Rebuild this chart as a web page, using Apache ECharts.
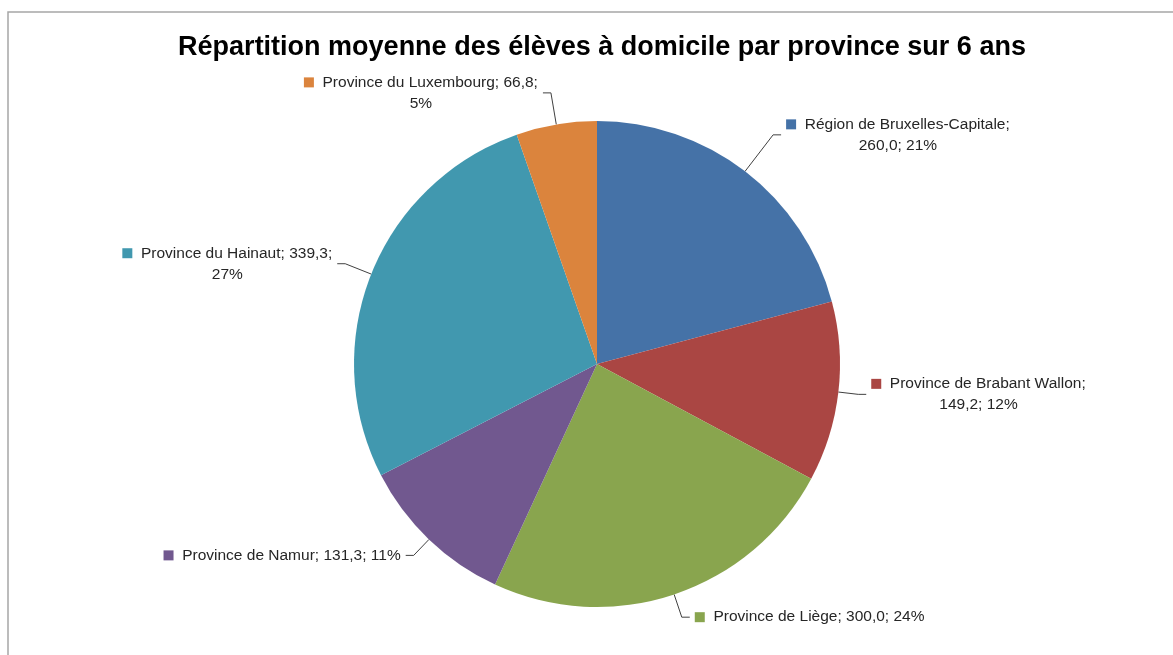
<!DOCTYPE html>
<html><head><meta charset="utf-8">
<script src="https://cdn.jsdelivr.net/npm/echarts@6/dist/echarts.min.js"></script>
<style>html,body{margin:0;padding:0;background:#fff}#c{width:1173px;height:655px}</style>
</head><body><div id="c"></div>
<script>
const titleText = 'Répartition moyenne des élèves à domicile par province sur 6 ans';
const categories = ['Région de Bruxelles-Capitale', 'Province de Brabant Wallon', 'Province de Liège', 'Province de Namur', 'Province du Hainaut', 'Province du Luxembourg'];
const values = [260.0, 149.2, 300.0, 131.3, 339.3, 66.8];
const colors = ['#4572A7', '#AA4643', '#89A54E', '#71588F', '#4198AF', '#DB843D'];
// how each label wraps in the reference (line break after name, after value, or none)
const labelBreaks = ['name', 'name', 'none', 'none', 'value', 'value'];

// styling only: leader line first-segment length per slice
const leaderLengths = [46, 20, 24, 22, 28, 32];

const total = values.reduce((a, b) => a + b, 0);
const fmtNum = v => v.toFixed(1).replace('.', ',');

const FS = 15.5;
const rich = { t: { fontSize: FS, color: '#262626', fontFamily: 'Liberation Sans', lineHeight: 21 },
  c: { fontSize: FS, color: '#262626', fontFamily: 'Liberation Sans', lineHeight: 21, align: 'center' } };
colors.forEach((col, i) => {
  rich['m' + i] = { width: 10, height: 10, backgroundColor: col, lineHeight: 21 };
});

const data = categories.map((name, i) => ({
  name, value: values[i], itemStyle: { color: colors[i] },
  labelLine: { length: leaderLengths[i] }
}));

const chart = echarts.init(document.getElementById('c'), null, { renderer: 'canvas' });
chart.setOption({
  backgroundColor: '#fff',
  animation: false,
  title: { text: titleText, left: 597, textAlign: 'center', top: 29,
    textStyle: { fontFamily: 'Liberation Sans', fontWeight: 'bold', fontSize: 27, color: '#000' } },
  graphic: [{ type: 'rect', shape: { x: 8, y: 12, width: 1300, height: 800 }, silent: true,
    style: { fill: 'none', stroke: '#a6a6a6', lineWidth: 1.5 } }],
  series: [{
    type: 'pie',
    center: [597, 364],
    radius: 243,
    startAngle: 90,
    clockwise: true,
    data,
    itemStyle: { borderWidth: 0 },
    label: {
      show: true,
      position: 'outside',
      rich,
      formatter: p => {
        const i = p.dataIndex;
        const num = fmtNum(p.value);
        const pct = Math.round(p.value / total * 100) + '%';
        const b = labelBreaks[i];
        const m = '{m' + i + '|}';
        if (b === 'name') return m + '{t|  ' + p.name + ';}\n{c|' + num + '; ' + pct + '}';
        if (b === 'value') return m + '{t|  ' + p.name + '; ' + num + ';}\n{c|' + pct + '}';
        return m + '{t|  ' + p.name + '; ' + num + '; ' + pct + '}';
      }
    },
    labelLine: { show: true, length: 22, length2: 8, lineStyle: { color: '#404040', width: 1 } }
  }]
});
</script></body></html>
